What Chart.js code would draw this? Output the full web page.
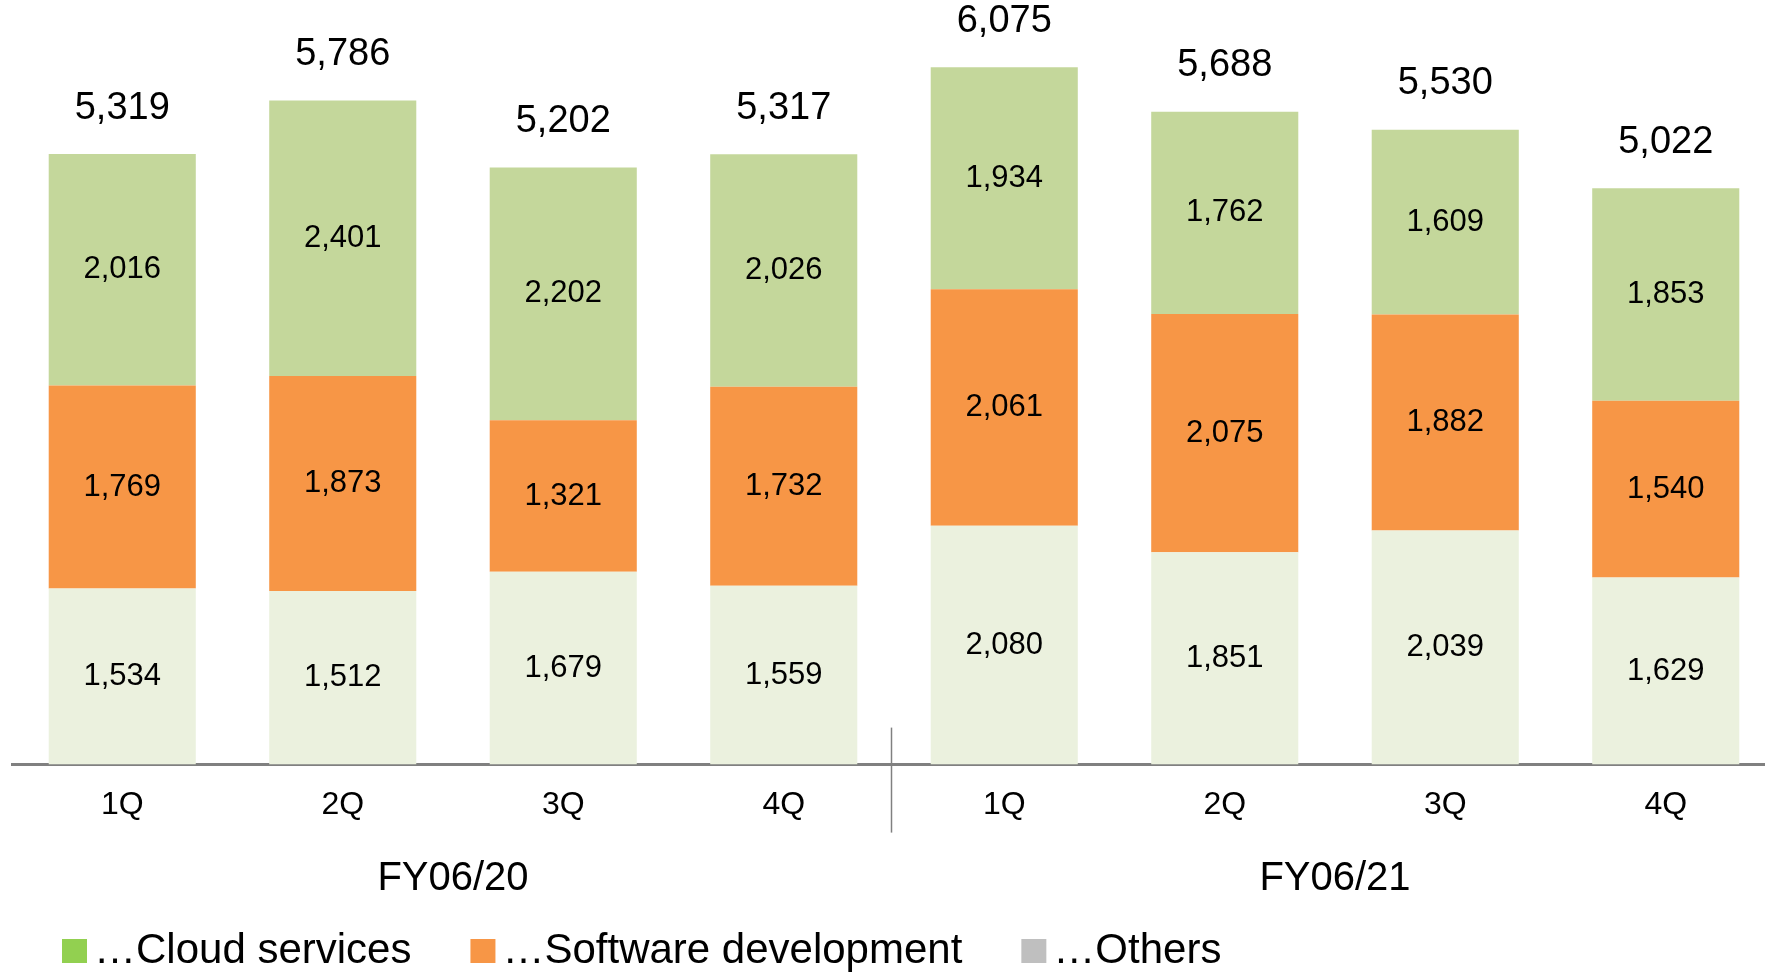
<!DOCTYPE html>
<html>
<head>
<meta charset="utf-8">
<script src="https://cdn.jsdelivr.net/npm/chart.js@4.4.1/dist/chart.umd.min.js"></script>
<style>
  html, body { margin: 0; padding: 0; background: #fff; overflow: hidden; }
</style>
</head>
<body>
<canvas id="myChart" width="1780" height="973"></canvas>
<script>
const quarters = ['1Q', '2Q', '3Q', '4Q', '1Q', '2Q', '3Q', '4Q'];
const fiscalYears = ['FY06/20', 'FY06/21'];
const cloud = [2016, 2401, 2202, 2026, 1934, 1762, 1609, 1853];
const software = [1769, 1873, 1321, 1732, 2061, 2075, 1882, 1540];
const others = [1534, 1512, 1679, 1559, 2080, 1851, 2039, 1629];

// legend entries, top segment first
const legendNames = ['\u2026Cloud services', '\u2026Software development', '\u2026Others'];
const legendColors = ['#92D050', '#F79646', '#BFBFBF'];

const FONT = '"Liberation Sans", Arial, sans-serif';
const fmt = v => v.toLocaleString('en-US');

// middle of each fiscal year (4 quarters each) on the linear helper axis
const yearCenters = fiscalYears.map((_, i) => i * 4 + 1.5);

// draws segment values, totals and the year divider
const labelsPlugin = {
    id: 'barLabels',
    afterDatasetsDraw(chart) {
        const ctx = chart.ctx;
        ctx.save();
        ctx.fillStyle = '#000';
        ctx.textAlign = 'center';
        ctx.textBaseline = 'middle';
        ctx.font = '31px ' + FONT;
        chart.data.datasets.forEach((ds, i) => {
            chart.getDatasetMeta(i).data.forEach((bar, j) => {
                ctx.fillText(fmt(ds.data[j]), bar.x, (bar.y + bar.base) / 2);
            });
        });
        const topMeta = chart.getDatasetMeta(chart.data.datasets.length - 1);
        ctx.font = '38px ' + FONT;
        topMeta.data.forEach((bar, j) => {
            const total = cloud[j] + software[j] + others[j];
            ctx.fillText(fmt(total), bar.x, bar.y - 46);
        });

        // divider between the two fiscal years
        const x = Math.round(chart.scales.x2.getPixelForValue(3.5)) - 2.5;
        const bottom = chart.chartArea.bottom;
        ctx.strokeStyle = '#808080';
        ctx.lineWidth = 1.5;
        ctx.beginPath();
        ctx.moveTo(x, bottom - 37);
        ctx.lineTo(x, bottom + 68);
        ctx.stroke();
        ctx.restore();
    }
};

// simple legend row along the bottom edge
const legendPlugin = {
    id: 'bottomLegend',
    afterDraw(chart) {
        const ctx = chart.ctx;
        const baseline = chart.height - 10;
        let x = chart.chartArea.left + 50;
        ctx.save();
        ctx.font = '42px ' + FONT;
        ctx.textAlign = 'left';
        ctx.textBaseline = 'alphabetic';
        legendNames.forEach((name, i) => {
            ctx.fillStyle = legendColors[i];
            ctx.fillRect(x, baseline - 24, 25, 24);
            x += 25 + 7;
            ctx.fillStyle = '#000';
            ctx.fillText(name, x, baseline);
            x += ctx.measureText(name).width + 59;
        });
        ctx.restore();
    }
};

const ctx = document.getElementById('myChart').getContext('2d');

new Chart(ctx, {
    type: 'bar',
    data: {
        labels: quarters,
        datasets: [
            { label: 'Others', data: others, backgroundColor: '#EBF1DE' },
            { label: 'Software development', data: software, backgroundColor: '#F79646' },
            { label: 'Cloud services', data: cloud, backgroundColor: '#C4D79B' }
        ]
    },
    options: {
        responsive: false,
        animation: false,
        layout: { padding: { left: 12, right: 4, top: 7, bottom: 61 } },
        datasets: {
            bar: { categoryPercentage: 1, barPercentage: 0.667, borderWidth: 0 }
        },
        scales: {
            x: {
                stacked: true,
                weight: 0,
                grid: { display: false, drawTicks: false },
                border: { display: true, color: '#808080', width: 3 },
                ticks: { color: '#000', font: { family: FONT, size: 32 }, padding: 21, maxRotation: 0 }
            },
            y: {
                stacked: true,
                display: false,
                min: 0,
                max: 6600
            },
            x2: {
                type: 'linear',
                position: 'bottom',
                weight: 1,
                min: -0.5,
                max: 7.5,
                offset: false,
                grid: { display: false, drawTicks: false },
                border: { display: false },
                afterBuildTicks: scale => {
                    scale.ticks = yearCenters.map(v => ({ value: v }));
                },
                ticks: {
                    autoSkip: false,
                    maxRotation: 0,
                    color: '#000',
                    padding: 9.5,
                    font: { family: FONT, size: 40 },
                    callback: (value, index) => fiscalYears[index]
                }
            }
        },
        plugins: {
            tooltip: { enabled: false },
            legend: { display: false }
        }
    },
    plugins: [labelsPlugin, legendPlugin]
});
</script>
</body>
</html>
